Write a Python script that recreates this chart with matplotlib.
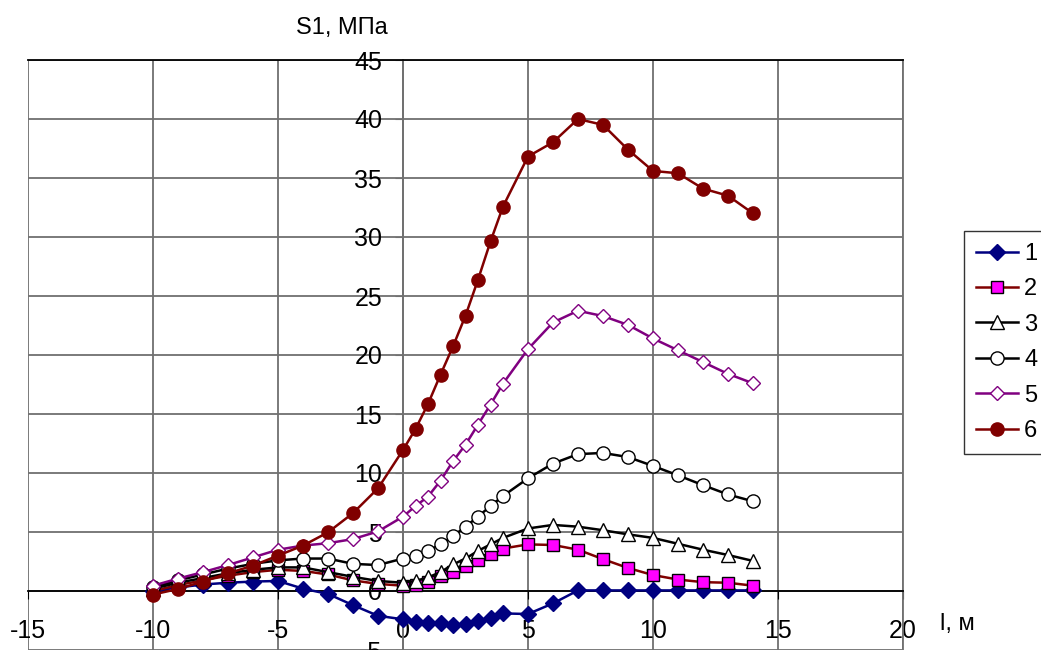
import matplotlib
matplotlib.use("Agg")
import matplotlib.pyplot as plt

plt.rcParams['font.family'] = ['Liberation Sans', 'DejaVu Sans']
plt.rcParams['axes.unicode_minus'] = False

# расстояние l, м
l_m = [-10, -9, -8, -7, -6, -5, -4, -3, -2, -1,
       0, 0.5, 1, 1.5, 2, 2.5, 3, 3.5, 4,
       5, 6, 7, 8, 9, 10, 11, 12, 13, 14]

# S1, МПа по кривым 1..6
s1_1 = [0.0, 0.3, 0.55, 0.7, 0.8, 0.85, 0.2, -0.25, -1.2, -2.1,
        -2.4, -2.65, -2.75, -2.75, -2.9, -2.8, -2.55, -2.3, -1.9,
        -1.95, -1.05, 0.05, 0.05, 0.05, 0.05, 0.05, 0.05, 0.05, 0.05]
s1_2 = [0.0, 0.5, 0.9, 1.3, 1.6, 1.8, 1.7, 1.4, 0.9, 0.6,
        0.45, 0.5, 0.8, 1.25, 1.65, 2.1, 2.6, 3.1, 3.6,
        3.95, 3.9, 3.5, 2.7, 1.95, 1.35, 0.97, 0.75, 0.7, 0.45]
s1_3 = [0.2, 0.7, 1.1, 1.5, 1.8, 2.0, 2.0, 1.6, 1.2, 0.85,
        0.7, 0.85, 1.15, 1.6, 2.25, 2.75, 3.4, 3.95, 4.5,
        5.3, 5.6, 5.45, 5.15, 4.8, 4.5, 4.0, 3.5, 3.05, 2.55]
s1_4 = [0.3, 0.9, 1.4, 1.9, 2.3, 2.6, 2.75, 2.75, 2.3, 2.2,
        2.75, 2.97, 3.4, 3.95, 4.65, 5.45, 6.3, 7.2, 8.05,
        9.55, 10.8, 11.6, 11.7, 11.35, 10.6, 9.8, 8.97, 8.18, 7.6]
s1_5 = [0.45, 1.05, 1.6, 2.2, 2.85, 3.5, 3.85, 4.05, 4.4, 5.05,
        6.3, 7.2, 8.0, 9.35, 11.0, 12.4, 14.1, 15.8, 17.57,
        20.5, 22.76, 23.75, 23.3, 22.55, 21.4, 20.4, 19.4, 18.4, 17.6]
s1_6 = [-0.3, 0.17, 0.8, 1.5, 2.15, 3.0, 3.85, 4.97, 6.6, 8.7,
        11.95, 13.73, 15.85, 18.33, 20.73, 23.33, 26.38, 29.62, 32.58,
        36.82, 38.03, 40.0, 39.5, 37.4, 35.6, 35.4, 34.1, 33.5, 32.0]

names = ["1", "2", "3", "4", "5", "6"]

fig = plt.figure(figsize=(10.41, 6.5), dpi=100)
ax = fig.add_axes([28/1041, 0.0, 875/1041, 590/650])

#стили кривых
styles = [
    dict(color="#000080", marker="D", mfc="#000080", mec="#000080", ms=8),
    dict(color="#800000", marker="s", mfc="#FF00FF", mec="#000000", ms=8.5),
    dict(color="#000000", marker="^", mfc="white", mec="#000000", ms=10),
    dict(color="#000000", marker="o", mfc="white", mec="#000000", ms=9.5),
    dict(color="#800080", marker="D", mfc="white", mec="#800080", ms=7.5),
    dict(color="#800000", marker="o", mfc="#800000", mec="#800000", ms=9.5),
]
series = [s1_1, s1_2, s1_3, s1_4, s1_5, s1_6]
for ys, st, nm in zip(series, styles, names):
    ax.plot(l_m, ys, lw=1.8, mew=1.0, label=nm, zorder=3, **st)

ax.set_xlim(-15, 20)
ax.set_ylim(-5, 45)
ax.set_xticks(range(-15, 21, 5))
ax.set_yticks(range(-5, 46, 5))
ax.grid(True, color="#707070", lw=1.3, zorder=0)
ax.set_axisbelow(True)

# оси через ноль
ax.spines['left'].set_position(('data', 0))
ax.spines['bottom'].set_position(('data', 0))
ax.spines['left'].set_color("#707070")
ax.spines['bottom'].set_color("#000000")
ax.spines['top'].set_color("#000000")
ax.spines['right'].set_color("#707070")
for sp in ax.spines.values():
    sp.set_linewidth(1.3)

ax.tick_params(axis='y', direction='out', length=6, pad=9, labelsize=18, color="#707070")
ax.tick_params(axis='x', direction='out', length=6, pad=14, labelsize=18)

fig.text(342/1041, 1-28/650, "S1, МПа", ha="center", va="center", fontsize=17)
fig.text(957/1041, 1-624/650, "l, м", ha="center", va="center", fontsize=17)

leg = fig.legend(loc="upper left", bbox_to_anchor=(964/1041, 1-231/650),
                 fontsize=17, frameon=True, fancybox=False, handlelength=1.8,
                 handletextpad=0.25, labelspacing=0.57, borderpad=0.5,
                 borderaxespad=0)
leg.get_frame().set_edgecolor("black")
leg.get_frame().set_linewidth(1.0)

fig.savefig("out.png", dpi=100)
